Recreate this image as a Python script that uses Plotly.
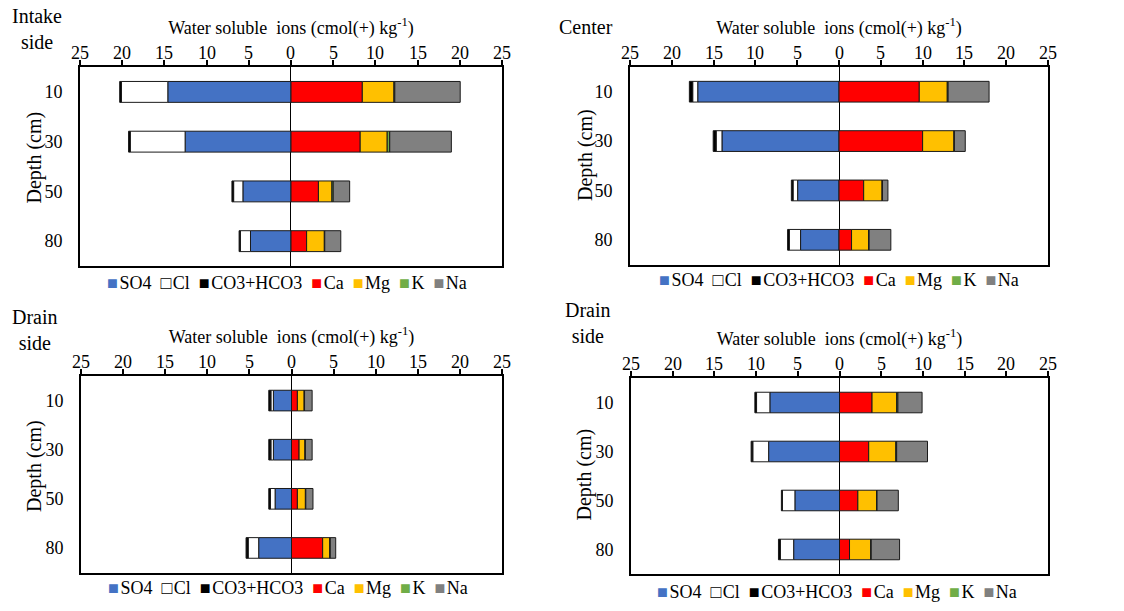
import plotly.graph_objects as go

depths = ["10", "30", "50", "80"]
ions = ["SO4", "Cl", "CO3+HCO3", "Ca", "Mg", "K", "Na"]
ion_colors = ["#4472C4", "#FFFFFF", "#000000", "#FF0000", "#FFC000", "#70AD47", "#808080"]
anions = ["SO4", "Cl", "CO3+HCO3"]
tick_vals = [-25, -20, -15, -10, -5, 0, 5, 10, 15, 20, 25]
tick_text = ["25", "20", "15", "10", "5", "0", "5", "10", "15", "20", "25"]
x_title = "Water soluble&nbsp; ions (cmol(+) kg<sup>-1</sup>)"
y_title = "Depth (cm)"

# Intake side
intake_SO4 = [14.6, 12.55, 5.7, 4.8]
intake_Cl = [5.5, 6.5, 1.1, 1.2]
intake_CO3 = [0.2, 0.2, 0.2, 0.15]
intake_Ca = [8.45, 8.2, 3.25, 1.85]
intake_Mg = [3.75, 3.2, 1.6, 2.1]
intake_K = [0.1, 0.3, 0.15, 0.05]
intake_Na = [7.75, 7.3, 1.95, 1.9]

# Center
center_SO4 = [16.9, 14.0, 4.95, 4.6]
center_Cl = [0.6, 0.7, 0.55, 1.35]
center_CO3 = [0.4, 0.35, 0.2, 0.2]
center_Ca = [9.6, 10.0, 2.95, 1.5]
center_Mg = [3.35, 3.75, 2.2, 2.05]
center_K = [0.1, 0.05, 0.05, 0.05]
center_Na = [4.9, 1.3, 0.65, 2.6]

# Drain side (bottom left)
drainA_SO4 = [2.15, 2.15, 1.95, 3.9]
drainA_Cl = [0.3, 0.3, 0.55, 1.25]
drainA_CO3 = [0.25, 0.25, 0.2, 0.25]
drainA_Ca = [0.7, 0.9, 0.7, 3.7]
drainA_Mg = [0.8, 0.7, 0.95, 0.85]
drainA_K = [0.05, 0.05, 0.05, 0.05]
drainA_Na = [0.9, 0.8, 0.85, 0.65]

# Drain side (bottom right)
drainB_SO4 = [8.35, 8.5, 5.35, 5.5]
drainB_Cl = [1.6, 1.9, 1.5, 1.6]
drainB_CO3 = [0.2, 0.2, 0.12, 0.22]
drainB_Ca = [3.9, 3.5, 2.2, 1.2]
drainB_Mg = [2.95, 3.25, 2.25, 2.55]
drainB_K = [0.15, 0.1, 0.05, 0.05]
drainB_Na = [2.9, 3.7, 2.55, 3.4]

FONT = "Liberation Serif"
W, H = 1124.0, 611.0

panels = [
    dict(title="Intake<br>side", data=[intake_SO4, intake_Cl, intake_CO3, intake_Ca, intake_Mg, intake_K, intake_Na],
         xdom=[0.0712, 0.4466], ydom=[0.5646, 0.8903], tx=0.0329, ty=0.995,
         legx=0.2549, legy=0.5368, ytx=34, yty=157.5),
    dict(title="Center", data=[center_SO4, center_Cl, center_CO3, center_Ca, center_Mg, center_K, center_Na],
         xdom=[0.5605, 0.9324], ydom=[0.5671, 0.8903], tx=0.5214, ty=0.977,
         legx=0.746, legy=0.5417, ytx=585, yty=155),
    dict(title="Drain<br>side", data=[drainA_SO4, drainA_Cl, drainA_CO3, drainA_Ca, drainA_Mg, drainA_K, drainA_Na],
         xdom=[0.0721, 0.4466], ydom=[0.0630, 0.3846], tx=0.0307, ty=0.5025,
         legx=0.2565, legy=0.0376, ytx=34.5, yty=466.5),
    dict(title="Drain<br>side", data=[drainB_SO4, drainB_Cl, drainB_CO3, drainB_Ca, drainB_Mg, drainB_K, drainB_Na],
         xdom=[0.5614, 0.9324], ydom=[0.0606, 0.3813], tx=0.5227, ty=0.5139,
         legx=0.7444, legy=0.0316, ytx=583.5, yty=475),
]

# legend text built from the ion names and colours
legend_parts = []
for ion, col in zip(ions, ion_colors):
    if col.upper() == "#FFFFFF":
        sym = '<span style="color:#000000">\u25a1</span>'
    else:
        sym = '<span style="color:%s">\u25a0</span>' % col
    legend_parts.append(sym + "\u200a" + ion)
legend_text = "\u2002".join(legend_parts)

fig = go.Figure()
annotations = []
layout_extra = {}
for i, p in enumerate(panels):
    n = "" if i == 0 else str(i + 1)
    for ion, col, vals in zip(ions, ion_colors, p["data"]):
        xs = [-v for v in vals] if ion in anions else vals
        fig.add_trace(go.Bar(
            x=xs, y=depths, orientation="h", name=ion,
            marker=dict(color=col, line=dict(color="#1a1a1a", width=1)),
            xaxis="x" + n, yaxis="y" + n, showlegend=False,
        ))
    layout_extra["xaxis" + n] = dict(
        domain=p["xdom"], anchor="y" + n, side="top", range=[-25, 25],
        tickvals=tick_vals, ticks="outside", ticklen=5, showticklabels=False,
        tickwidth=1.5, tickcolor="black", showline=True, linecolor="black",
        linewidth=1.8, mirror=True, showgrid=False, zeroline=True,
        zerolinecolor="black", zerolinewidth=1.2, fixedrange=True, automargin=False,
        title=dict(text=x_title, standoff=21, font=dict(family=FONT, size=18, color="black")),
    )
    layout_extra["yaxis" + n] = dict(
        domain=p["ydom"], anchor="x" + n, type="category", autorange="reversed",
        showline=True, linecolor="black", linewidth=1.8, mirror=True, automargin=False,
        showgrid=False, ticks="", ticklabelstandoff=12, fixedrange=True,
        tickfont=dict(family=FONT, size=18, color="black"),
    )
    # top tick numbers, placed on the axis scale just above the tick marks
    for tv, tt in zip(tick_vals, tick_text):
        annotations.append(dict(
            text=tt, xref="x" + n, yref="paper", x=tv, y=p["ydom"][1] + 14.5 / H,
            xanchor="center", yanchor="middle", showarrow=False,
            font=dict(family=FONT, size=18, color="black"),
        ))
    annotations.append(dict(
        text=y_title, xref="paper", yref="paper", x=p["ytx"] / W, y=1 - p["yty"] / H,
        xanchor="center", yanchor="middle", showarrow=False, textangle=-90,
        font=dict(family=FONT, size=20, color="black"),
    ))
    annotations.append(dict(
        text=p["title"], xref="paper", yref="paper", x=p["tx"], y=p["ty"],
        xanchor="center", yanchor="top", showarrow=False, align="center",
        font=dict(family=FONT, size=20, color="black"),
    ))
    annotations.append(dict(
        text=legend_text, xref="paper", yref="paper", x=p["legx"], y=p["legy"],
        xanchor="center", yanchor="middle", showarrow=False,
        font=dict(family=FONT, size=18, color="black"),
    ))

fig.update_layout(
    width=1124, height=611, margin=dict(l=0, r=0, t=0, b=0),
    paper_bgcolor="white", plot_bgcolor="white",
    font=dict(family=FONT, size=18, color="black"),
    barmode="relative", bargap=0.58, annotations=annotations, showlegend=False,
    **layout_extra,
)

fig.write_html("out.html")
